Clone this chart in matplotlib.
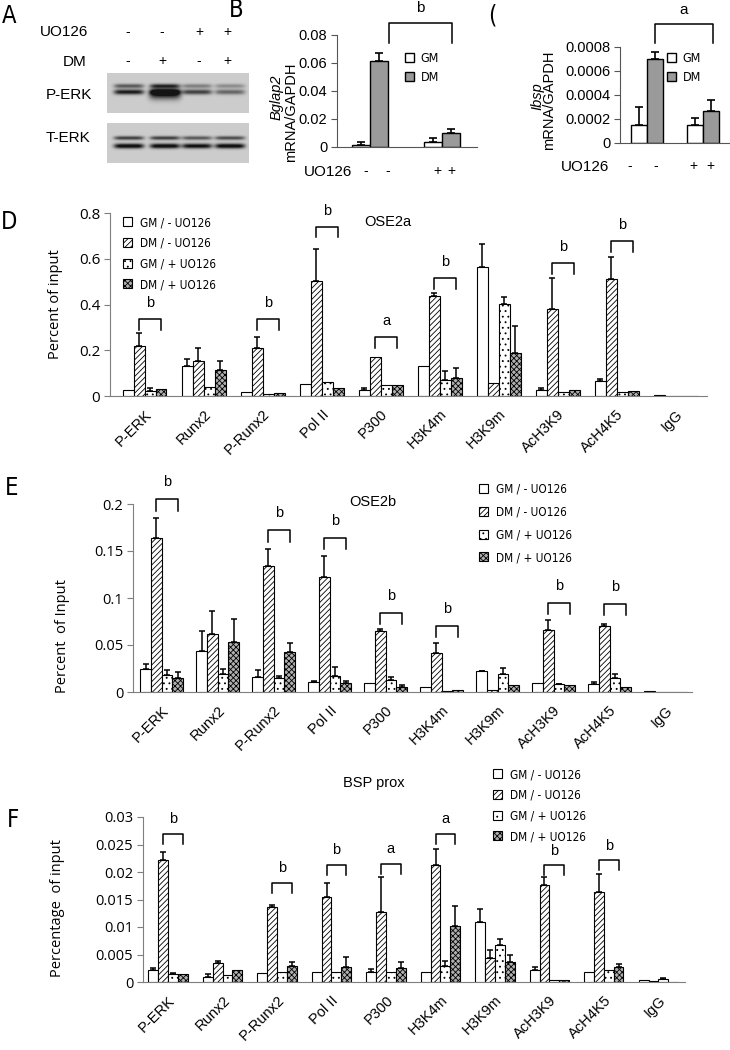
import numpy as np
import matplotlib
matplotlib.use('Agg')
import matplotlib.pyplot as plt
from matplotlib.patches import Patch

W, H = 730, 1050
plt.rcParams['hatch.linewidth'] = 0.6
narrow = ['Liberation Sans Narrow', 'DejaVu Sans']
arial = ['Liberation Sans', 'DejaVu Sans']
opensans = ['Open Sans', 'DejaVu Sans']

# --- data -------------------------------------------------------------
targets = ['P-ERK', 'Runx2', 'P-Runx2', 'Pol II', 'P300', 'H3K4m', 'H3K9m', 'AcH3K9', 'AcH4K5', 'IgG']
groups = ['GM / - UO126', 'DM / - UO126', 'GM / + UO126', 'DM / + UO126']

# western blot band darkness (lanes: -/-, -/+, +/-, +/+)
perk_upper = [0.45, 0.6, 0.3, 0.25]
perk_lower = [0.7, 0.7, 0.55, 0.4]
perk_blob = [0.0, 0.65, 0.0, 0.0]
terk_upper = [0.55, 0.55, 0.45, 0.5]
terk_lower = [0.8, 0.8, 0.75, 0.8]
uo126_signs = ['-', '-', '+', '+']
dm_signs = ['-', '+', '-', '+']

# B: Bglap2 mRNA
b_vals = [0.0017, 0.0614, 0.0036, 0.0100]
b_err = [0.0019, 0.0059, 0.0031, 0.0031]
b_ticks = [0, 0.02, 0.04, 0.06, 0.08]
b_ticklabels = ['0', '0.02', '0.04', '0.06', '0.08']

# C: Ibsp mRNA
c_vals = [0.000147, 0.000703, 0.000153, 0.000267]
c_err = [0.000153, 0.000055, 0.000055, 0.000094]
c_ticks = [0, 0.0002, 0.0004, 0.0006, 0.0008]
c_ticklabels = ['0', '0.0002', '0.0004', '0.0006', '0.0008']

# D: OSE2a
d_gm_minus = [0.025, 0.131, 0.017, 0.054, 0.025, 0.131, 0.565, 0.025, 0.064, 0.006]
d_gm_minus_err = [0.0, 0.032, 0.0, 0.0, 0.011, 0.0, 0.10, 0.011, 0.012, 0.0]
d_dm_minus = [0.217, 0.153, 0.21, 0.504, 0.171, 0.436, 0.057, 0.38, 0.51, 0.0]
d_dm_minus_err = [0.06, 0.057, 0.05, 0.14, 0.0, 0.016, 0.0, 0.134, 0.096, 0.0]
d_gm_plus = [0.022, 0.039, 0.01, 0.061, 0.047, 0.069, 0.401, 0.017, 0.016, 0.0]
d_gm_plus_err = [0.015, 0.0, 0.0, 0.0, 0.0, 0.04, 0.032, 0.0, 0.0, 0.0]
d_dm_plus = [0.029, 0.115, 0.012, 0.036, 0.047, 0.08, 0.188, 0.028, 0.022, 0.0]
d_dm_plus_err = [0.0, 0.038, 0.0, 0.0, 0.0, 0.044, 0.118, 0.0, 0.0, 0.0]
d_ticks = [0, 0.2, 0.4, 0.6, 0.8]
d_ticklabels = ['0', '0.2', '0.4', '0.6', '0.8']
d_brackets = [(0, 0.337, 'b'), (2, 0.337, 'b'), (3, 0.74, 'b'), (4, 0.258, 'a'),
              (5, 0.516, 'b'), (7, 0.58, 'b'), (8, 0.677, 'b')]

# E: OSE2b
e_gm_minus = [0.0245, 0.0436, 0.016, 0.011, 0.010, 0.005, 0.022, 0.010, 0.0085, 0.0014]
e_gm_minus_err = [0.0055, 0.021, 0.007, 0.001, 0.0, 0.0, 0.0005, 0.0, 0.0025, 0.0]
e_dm_minus = [0.164, 0.0617, 0.134, 0.122, 0.065, 0.042, 0.0025, 0.066, 0.070, 0.0]
e_dm_minus_err = [0.021, 0.024, 0.018, 0.023, 0.002, 0.010, 0.0, 0.011, 0.002, 0.0]
e_gm_plus = [0.018, 0.019, 0.015, 0.017, 0.013, 0.0015, 0.019, 0.008, 0.015, 0.0]
e_gm_plus_err = [0.005, 0.0055, 0.002, 0.010, 0.003, 0.0, 0.007, 0.001, 0.004, 0.0]
e_dm_plus = [0.015, 0.053, 0.043, 0.0096, 0.005, 0.0025, 0.007, 0.007, 0.005, 0.0]
e_dm_plus_err = [0.006, 0.025, 0.009, 0.0024, 0.002, 0.0, 0.0, 0.0, 0.0, 0.0]
e_ticks = [0, 0.05, 0.1, 0.15, 0.2]
e_ticklabels = ['0', '0.05', '0.1', '0.15', '0.2']
e_brackets = [(0, 0.205, 'b'), (2, 0.172, 'b'), (3, 0.164, 'b'), (4, 0.084, 'b'),
              (5, 0.070, 'b'), (7, 0.095, 'b'), (8, 0.094, 'b')]

# F: BSP prox
f_gm_minus = [0.0021, 0.001, 0.0016, 0.0018, 0.0019, 0.0018, 0.011, 0.0022, 0.0018, 0.0003]
f_gm_minus_err = [0.0004, 0.0005, 0, 0, 0.0005, 0, 0.0022, 0.0005, 0, 0]
f_dm_minus = [0.0221, 0.0035, 0.0136, 0.0155, 0.0127, 0.0213, 0.0044, 0.0176, 0.0164, 0.0002]
f_dm_minus_err = [0.0015, 0.0004, 0.0004, 0.0025, 0.0064, 0.0029, 0.0015, 0.0015, 0.0033, 0]
f_gm_plus = [0.0015, 0.0013, 0.0018, 0.0018, 0.0018, 0.003, 0.0068, 0.0004, 0.0021, 0.0005]
f_gm_plus_err = [0.0001, 0, 0, 0, 0, 0.0008, 0.001, 0, 0, 0.0002]
f_dm_plus = [0.0015, 0.0022, 0.003, 0.0027, 0.0025, 0.0101, 0.0036, 0.0004, 0.0028, 0]
f_dm_plus_err = [0, 0, 0.0006, 0.0018, 0.0011, 0.0038, 0.0014, 0, 0.0005, 0]
f_ticks = [0, 0.005, 0.01, 0.015, 0.02, 0.025, 0.03]
f_ticklabels = ['0', '0.005', '0.01', '0.015', '0.02', '0.025', '0.03']
f_brackets = [(0, 0.0269, 'b'), (2, 0.018, 'b'), (3, 0.0213, 'b'), (4, 0.0215, 'a'),
              (5, 0.0269, 'a'), (7, 0.0212, 'b'), (8, 0.0221, 'b')]


def rect(l, t, r, b):
    return [l / W, 1 - b / H, (r - l) / W, (b - t) / H]


def ftext(x, y, s, **kw):
    fig.text(x / W, 1 - y / H, s, **kw)


def style_axis(ax, ticks, ticklabels, fs, family, color='#7f7f7f'):
    for s in ['top', 'right']:
        ax.spines[s].set_visible(False)
    ax.spines['left'].set_color(color)
    ax.spines['bottom'].set_color(color)
    ax.set_yticks(ticks)
    ax.set_yticklabels(ticklabels, fontsize=fs, family=family)
    ax.tick_params(axis='y', direction='out', length=4, color=color, pad=3)
    ax.tick_params(axis='x', length=0)


fig = plt.figure(figsize=(W / 100, H / 100), dpi=100)
letter_kw = dict(fontsize=17, family=narrow, fontstretch='condensed', ha='center', va='center')
legend_prop = {'family': narrow, 'size': 8.5, 'stretch': 'condensed'}

# --- A: western blot ----------------------------------------------------
def blot(ax, bands, w=142, h=40, bg=0.8):
    xx, yy = np.meshgrid(np.arange(w) + 0.5, np.arange(h) + 0.5)
    img = np.full((h, w), bg)
    lane_x = [22, 58, 90, 123]
    for cy, sy, sx, dark in bands:
        for i, cx in enumerate(lane_x):
            img -= dark[i] * np.exp(-((xx - cx) / sx) ** 6) * np.exp(-((yy - cy) / sy) ** 2)
    ax.imshow(np.clip(img, 0.08, 1), cmap='gray', vmin=0, vmax=1, aspect='auto', interpolation='bilinear')
    ax.axis('off')

ax_b1 = fig.add_axes(rect(107, 73, 249, 113))
blot(ax_b1, [(13, 2.2, 15, perk_upper), (19, 2.6, 15, perk_lower), (21, 5.5, 16, perk_blob)])
ax_b2 = fig.add_axes(rect(107, 123, 249, 163))
blot(ax_b2, [(15, 2.0, 15, terk_upper), (23, 2.5, 15, terk_lower)])

ftext(9, 16, 'A', **letter_kw)
ftext(64, 32, 'UO126', fontsize=11, family=arial, ha='center', va='center')
ftext(75, 62, 'DM', fontsize=11, family=arial, ha='center', va='center')
ftext(69, 95, 'P-ERK', fontsize=11, family=arial, ha='center', va='center')
ftext(68, 138, 'T-ERK', fontsize=11, family=arial, ha='center', va='center')
for xs, s1, s2 in zip([128, 162, 199, 227], uo126_signs, dm_signs):
    ftext(xs, 32, s1, fontsize=10, family=arial, ha='center', va='center')
    ftext(xs, 61, s2, fontsize=10, family=arial, ha='center', va='center')

# --- B and C: mRNA ------------------------------------------------------
def mrna(ax, pos, vals, err, ticks, ticklabels, xlim, ytop, bracket, letter):
    colors = ['white', '#9a9a9a', 'white', '#9a9a9a']
    ax.bar(pos, vals, width=1.0, color=colors, edgecolor='black', linewidth=1.0, zorder=2)
    ax.errorbar(pos, vals, yerr=[np.zeros(4), err], fmt='none', ecolor='black',
                elinewidth=1.2, capsize=3, capthick=1.2, zorder=3)
    ax.set_xlim(*xlim)
    ax.set_ylim(0, ytop)
    ax.set_xticks([])
    style_axis(ax, ticks, ticklabels, 10.5, arial, color='#555555')
    x1, x2, ytop_b, ydrop = bracket
    ax.plot([x1, x1, x2, x2], [ydrop, ytop_b, ytop_b, ydrop], color='black', lw=1.1, clip_on=False)
    ax.text((x1 + x2) / 2, ytop_b + (ytop_b - ydrop) * 0.75, letter, ha='center', va='center',
            fontsize=11, family=arial)
    h = [Patch(facecolor='white', edgecolor='black', label='GM'),
         Patch(facecolor='#9a9a9a', edgecolor='black', label='DM')]
    return h

ax_B = fig.add_axes(rect(337, 35, 477, 147))
hB = mrna(ax_B, [0, 1, 4, 5], b_vals, b_err, b_ticks, b_ticklabels, (-1.33, 6.44), 0.08,
          (1.56, 5.06, 0.0886, 0.0743), 'b')
ax_B.legend(handles=hB, loc='upper left', bbox_to_anchor=(405 / W, 1 - 52 / H), bbox_transform=fig.transFigure,
            frameon=False, prop={'family': narrow, 'size': 9, 'stretch': 'condensed'},
            handlelength=0.75, handleheight=0.75,
            handletextpad=0.5, labelspacing=0.45, borderpad=0, borderaxespad=0)
ftext(236, 10, 'B', **letter_kw)
ftext(277, 97, 'Bglap2', fontsize=10.5, family=arial, style='italic', rotation=90, ha='center', va='center')
ftext(291, 112, 'mRNA/GAPDH', fontsize=10.5, family=arial, rotation=90, ha='center', va='center')
ftext(328, 172, 'UO126', fontsize=11, family=arial, ha='center', va='center')
for xs, s in zip([366, 388, 437, 451], uo126_signs):
    ftext(xs, 171, s, fontsize=10, family=arial, ha='center', va='center')

ax_C = fig.add_axes(rect(620, 47, 730, 143))
hC = mrna(ax_C, [0, 1, 3.5, 4.5], c_vals, c_err, c_ticks, c_ticklabels, (-1.19, 5.69), 0.0008,
          (1.0, 4.63, 0.00099, 0.000833), 'a')
ax_C.legend(handles=hC, loc='upper left', bbox_to_anchor=(667 / W, 1 - 52 / H), bbox_transform=fig.transFigure,
            frameon=False, prop={'family': narrow, 'size': 9, 'stretch': 'condensed'},
            handlelength=0.75, handleheight=0.75,
            handletextpad=0.5, labelspacing=0.45, borderpad=0, borderaxespad=0)
ftext(492, 16, '(', **letter_kw)
ftext(537, 96, 'Ibsp', fontsize=10.5, family=arial, style='italic', rotation=90, ha='center', va='center')
ftext(549, 100, 'mRNA/GAPDH', fontsize=10.5, family=arial, rotation=90, ha='center', va='center')
ftext(585, 167, 'UO126', fontsize=11, family=arial, ha='center', va='center')
for xs, s in zip([630, 656, 693, 710], uo126_signs):
    ftext(xs, 166, s, fontsize=10, family=arial, ha='center', va='center')

# --- D, E, F: ChIP ------------------------------------------------------
fills = [dict(facecolor='white', hatch=None),
         dict(facecolor='white', hatch='//////'),
         dict(facecolor='white', hatch='...'),
         dict(facecolor='#b0b0b0', hatch='xxxxxx')]


def chip(ax, series, errs, bw, xlim, ticks, ticklabels, tfs, ylabel, label_xy, brackets, drop):
    x = np.arange(len(targets))
    for k, (vals, err) in enumerate(zip(series, errs)):
        xs = x + (k - 1.5) * bw
        ax.bar(xs, vals, width=bw, edgecolor='black', linewidth=0.8, zorder=2, **fills[k])
        err = np.array(err)
        m = err > 0
        ax.errorbar(xs[m], np.array(vals)[m], yerr=[np.zeros(m.sum()), err[m]], fmt='none',
                    ecolor='black', elinewidth=1.1, capsize=2.5, capthick=1.1, zorder=3)
    ax.set_xlim(*xlim)
    ax.set_ylim(0, ticks[-1])
    ax.set_xticks(x)
    ax.set_xticklabels(targets, rotation=45, ha='right', rotation_mode='anchor', fontsize=10.5, family=arial)
    style_axis(ax, ticks, ticklabels, tfs, opensans)
    ax.tick_params(axis='x', pad=8)
    ax.set_ylabel(ylabel, fontsize=10.5, family=opensans)
    ax.yaxis.set_label_coords(*label_xy)
    for i, ytop, letter in brackets:
        x1, x2 = i - 0.5 * bw, i + 1.5 * bw
        ax.plot([x1, x1, x2, x2], [ytop - drop, ytop, ytop, ytop - drop], color='black', lw=1.1, clip_on=False)
        ax.text((x1 + x2) / 2, ytop + drop * 1.5, letter, ha='center', va='center', fontsize=10.5, family=arial)
    handles = [Patch(edgecolor='black', linewidth=0.8, label=g, **fills[k]) for k, g in enumerate(groups)]
    return handles


def chip_legend(ax, handles, x, y, spacing):
    ax.legend(handles=handles, loc='upper left', bbox_to_anchor=(x / W, 1 - y / H), bbox_transform=fig.transFigure,
              frameon=False, prop=legend_prop, handlelength=0.8, handleheight=0.8,
              handletextpad=0.6, labelspacing=spacing, borderpad=0, borderaxespad=0)


ax_D = fig.add_axes(rect(110, 213, 707, 396))
hD = chip(ax_D, [d_gm_minus, d_dm_minus, d_gm_plus, d_dm_plus],
          [d_gm_minus_err, d_dm_minus_err, d_gm_plus_err, d_dm_plus_err],
          0.186, (-0.585, 9.53), d_ticks, d_ticklabels, 11, 'Percent of input', (-0.079, 0.5),
          d_brackets, 0.047)
chip_legend(ax_D, hD, 123, 216, 0.65)
ftext(388, 222, 'OSE2a', fontsize=10.5, family=arial, ha='center', va='center')
ftext(9, 222, 'D', **letter_kw)

ax_E = fig.add_axes(rect(133, 504, 692, 692))
hE = chip(ax_E, [e_gm_minus, e_dm_minus, e_gm_plus, e_dm_plus],
          [e_gm_minus_err, e_dm_minus_err, e_gm_plus_err, e_dm_plus_err],
          0.19, (-0.51, 9.47), e_ticks, e_ticklabels, 10.5, 'Percent  of Input', (-0.113, 0.30),
          e_brackets, 0.012)
chip_legend(ax_E, hE, 479, 483, 0.82)
ftext(373, 502, 'OSE2b', fontsize=10.5, family=arial, ha='center', va='center')
ftext(12, 488, 'E', **letter_kw)

ax_F = fig.add_axes(rect(143, 817, 685, 982))
hF = chip(ax_F, [f_gm_minus, f_dm_minus, f_gm_plus, f_dm_plus],
          [f_gm_minus_err, f_dm_minus_err, f_gm_plus_err, f_dm_plus_err],
          0.18, (-0.46, 9.49), f_ticks, f_ticklabels, 10.5, 'Percentage  of input', (-0.144, 0.45),
          f_brackets, 0.0018)
chip_legend(ax_F, hF, 493, 768, 0.65)
ftext(374, 783, 'BSP prox', fontsize=10.5, family=arial, ha='center', va='center')
ftext(13, 820, 'F', **letter_kw)

fig.savefig('out.png', dpi=100)
